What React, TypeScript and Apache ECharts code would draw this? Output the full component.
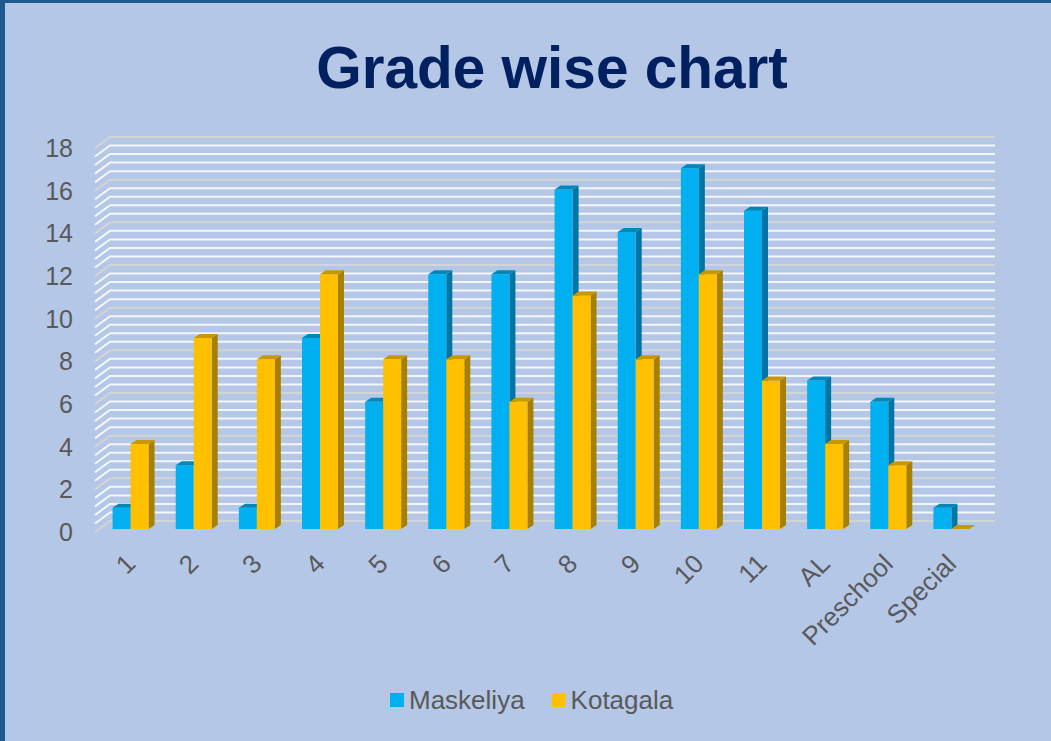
import React, { useEffect, useRef } from "react";
import * as echarts from "echarts";

const categories = ["1", "2", "3", "4", "5", "6", "7", "8", "9", "10", "11", "AL", "Preschool", "Special"];
const maskeliya = [1, 3, 1, 9, 6, 12, 12, 16, 14, 17, 15, 7, 6, 1];
const kotagala = [4, 9, 8, 12, 8, 8, 6, 11, 8, 12, 7, 4, 3, 0];
const yMin = 0;
const yMax = 18;
const yInterval = 2;
const minorSplits = 5;
const wallLevels = Array.from(
  { length: ((yMax - yMin) / yInterval) * minorSplits + 1 },
  (_, i) => +(yMin + (i * yInterval) / minorSplits).toFixed(2)
);

const WALL_DX = 15;
const WALL_DY = 11;
const BAR_DX = 6;
const BAR_DY = 4;
const FONT = "Liberation Sans, Arial, sans-serif";

function barRenderer(slot: number, front: string, top: string, side: string) {
  return (params: any, api: any) => {
    const i = api.value(0);
    const v = api.value(1);
    const t = api.coord([i, v]);
    const b = api.coord([i, 0]);
    const band = api.size([1, 0])[0];
    const w = band * 0.285;
    const x0 = slot === 0 ? t[0] - w : t[0];
    const x1 = x0 + w;
    const yT = t[1];
    const yB = b[1];
    return {
      type: "group",
      children: [
        {
          type: "polygon",
          shape: { points: [[x1, yT], [x1 + BAR_DX, yT - BAR_DY], [x1 + BAR_DX, yB - BAR_DY], [x1, yB]] },
          style: { fill: side },
        },
        {
          type: "rect",
          shape: { x: x0, y: yT, width: w, height: yB - yT },
          style: { fill: front },
        },
        {
          type: "polygon",
          shape: { points: [[x0, yT], [x0 + BAR_DX, yT - BAR_DY], [x1 + BAR_DX, yT - BAR_DY], [x1, yT]] },
          style: { fill: top },
        },
      ],
    };
  };
}

export default function App() {
  const ref = useRef<HTMLDivElement>(null);
  useEffect(() => {
    if (!ref.current) return;
    const chart = echarts.init(ref.current, null, { renderer: "svg" });
    chart.setOption({
      animation: false,
      backgroundColor: "#b4c7e7",
      title: {
        text: "Grade wise chart",
        left: 547,
        top: 33,
        textAlign: "center",
        textStyle: { fontFamily: FONT, fontSize: 58.5, fontWeight: "bold", color: "#002060" },
      },
      legend: {
        left: 390,
        top: 686,
        padding: 0,
        icon: "rect",
        itemWidth: 14,
        itemHeight: 14,
        itemGap: 27,
        textStyle: { fontFamily: FONT, fontSize: 26, color: "#595959", lineHeight: 28 },
        data: ["Maskeliya", "Kotagala"],
      },
      graphic: [
        { type: "rect", shape: { x: 0, y: 0, width: 5, height: 741 }, style: { fill: "#1f5a8e" }, z: 100 },
        { type: "rect", shape: { x: 0, y: 0, width: 1051, height: 3 }, style: { fill: "#1f5a8e" }, z: 100 },
      ],
      grid: [
        { left: 99, right: 68, top: 147, bottom: 212 },
        { left: 95, right: 71, top: 148, bottom: 209 },
      ],
      xAxis: [
        {
          type: "category",
          gridIndex: 0,
          data: categories,
          axisLine: { show: false },
          axisTick: { show: false },
          axisLabel: {
            rotate: 45,
            margin: 30,
            interval: 0,
            fontFamily: FONT,
            fontSize: 26,
            color: "#595959",
          },
        },
        { type: "value", gridIndex: 1, min: 0, max: 1, show: false },
      ],
      yAxis: [
        { type: "value", gridIndex: 0, min: yMin, max: yMax, interval: yInterval, show: false },
        {
          type: "value",
          gridIndex: 1,
          min: yMin,
          max: yMax,
          interval: yInterval,
          axisLine: { show: false },
          axisTick: { show: false },
          splitLine: { show: false },
          axisLabel: {
            margin: 22,
            fontFamily: FONT,
            fontSize: 25,
            color: "#595959",
          },
        },
      ],
      series: [
        {
          type: "custom",
          name: "wall",
          xAxisIndex: 1,
          yAxisIndex: 1,
          z: 1,
          silent: true,
          data: wallLevels.map((v) => [0, v]),
          renderItem: (params: any, api: any) => {
            const v = api.value(1);
            const p = api.coord([0, v]);
            const cs = params.coordSys;
            const major = Math.abs(v / yInterval - Math.round(v / yInterval)) < 1e-6;
            return {
              type: "polyline",
              shape: {
                points: [
                  [p[0], p[1]],
                  [p[0] + WALL_DX, p[1] - WALL_DY],
                  [cs.x + cs.width + WALL_DX, p[1] - WALL_DY],
                ],
              },
              style: { stroke: major ? "#d4d4d4" : "#f4f6fa", lineWidth: 2, fill: "none" },
            };
          },
        },
        {
          type: "custom",
          name: "Maskeliya",
          xAxisIndex: 0,
          yAxisIndex: 0,
          z: 2,
          itemStyle: { color: "#00b0f0" },
          data: maskeliya.map((v, i) => [i, v]),
          encode: { x: 0, y: 1 },
          renderItem: barRenderer(0, "#00b0f0", "#0088bb", "#0074a2"),
        },
        {
          type: "custom",
          name: "Kotagala",
          xAxisIndex: 0,
          yAxisIndex: 0,
          z: 3,
          itemStyle: { color: "#ffc000" },
          data: kotagala.map((v, i) => [i, v]),
          encode: { x: 0, y: 1 },
          renderItem: barRenderer(1, "#ffc000", "#c99700", "#a88000"),
        },
      ],
    });
    return () => chart.dispose();
  }, []);
  return (
    <div
      ref={ref}
      style={{ position: "absolute", left: 0, top: 0, width: 1051, height: 741 }}
    />
  );
}
